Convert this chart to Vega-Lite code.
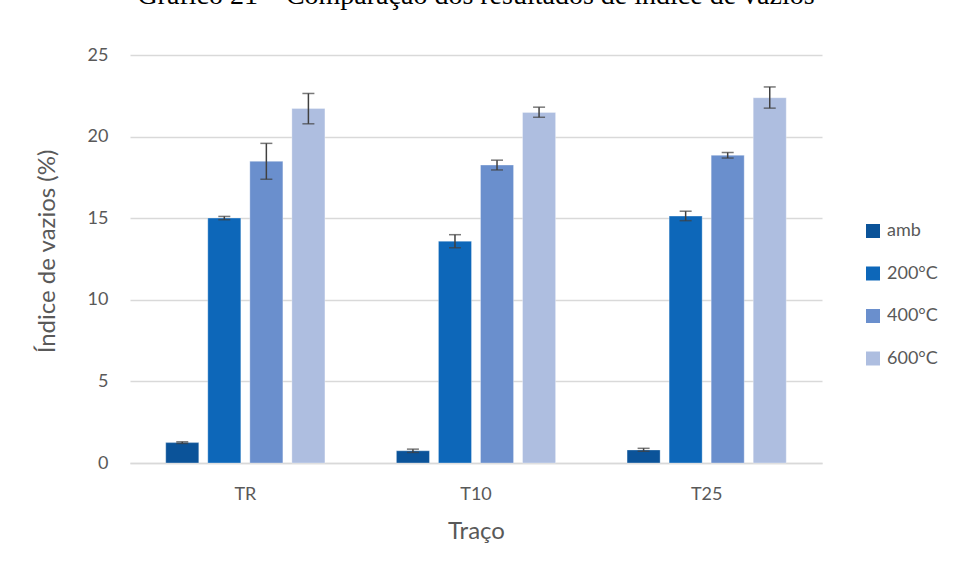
{
  "$schema": "https://vega.github.io/schema/vega-lite/v6.json",
  "width": 692,
  "height": 424,
  "autosize": "none",
  "padding": {"left": 130, "top": 39, "right": 136, "bottom": 118},
  "background": "white",
  "title": {
    "text": "Gráfico 21 – Comparação dos resultados de índice de vazios",
    "font": "Liberation Serif",
    "fontSize": 28,
    "fontWeight": "normal",
    "color": "#000000",
    "anchor": "middle",
    "frame": "group",
    "baseline": "alphabetic",
    "offset": 7
  },
  "data": {
    "values": [
      {"traco": "TR", "temp": "amb", "value": 1.25, "lo": 1.2, "hi": 1.3},
      {"traco": "TR", "temp": "200°C", "value": 15.02, "lo": 14.92, "hi": 15.12},
      {"traco": "TR", "temp": "400°C", "value": 18.5, "lo": 17.4, "hi": 19.6},
      {"traco": "TR", "temp": "600°C", "value": 21.74, "lo": 20.8, "hi": 22.66},
      {"traco": "T10", "temp": "amb", "value": 0.75, "lo": 0.65, "hi": 0.85},
      {"traco": "T10", "temp": "200°C", "value": 13.6, "lo": 13.2, "hi": 14.0},
      {"traco": "T10", "temp": "400°C", "value": 18.27, "lo": 17.97, "hi": 18.57},
      {"traco": "T10", "temp": "600°C", "value": 21.5, "lo": 21.2, "hi": 21.82},
      {"traco": "T25", "temp": "amb", "value": 0.8, "lo": 0.72, "hi": 0.9},
      {"traco": "T25", "temp": "200°C", "value": 15.14, "lo": 14.86, "hi": 15.44},
      {"traco": "T25", "temp": "400°C", "value": 18.87, "lo": 18.7, "hi": 19.04},
      {"traco": "T25", "temp": "600°C", "value": 22.4, "lo": 21.76, "hi": 23.06}
    ]
  },
  "encoding": {
    "x": {
      "field": "traco",
      "type": "nominal",
      "sort": ["TR", "T10", "T25"],
      "scale": {"paddingInner": 0, "paddingOuter": 0},
      "axis": {
        "title": "Traço",
        "labelAngle": 0,
        "ticks": false,
        "domainColor": "#d9d9d9",
        "domainWidth": 1.5,
        "labelFont": "Lato",
        "labelFontSize": 18,
        "labelColor": "#595959",
        "labelPadding": 22,
        "titleFont": "Lato",
        "titleFontSize": 24,
        "titleFontWeight": "normal",
        "titleColor": "#595959",
        "titlePadding": 16
      }
    },
    "xOffset": {
      "field": "temp",
      "type": "nominal",
      "sort": ["amb", "200°C", "400°C", "600°C"],
      "scale": {"paddingInner": 0.214, "paddingOuter": 0.85}
    }
  },
  "layer": [
    {
      "mark": {"type": "bar", "stroke": "#ffffff", "strokeWidth": 0.8, "strokeOpacity": 0.4},
      "encoding": {
        "y": {
          "field": "value",
          "type": "quantitative",
          "scale": {"domain": [0, 25]},
          "axis": {
            "title": "Índice de vazios (%)",
            "values": [0, 5, 10, 15, 20, 25],
            "ticks": false,
            "domain": false,
            "gridColor": "#d9d9d9",
            "gridWidth": 1.5,
            "labelFont": "Lato",
            "labelFontSize": 18,
            "labelColor": "#595959",
            "labelPadding": 22,
            "titleFont": "Lato",
            "titleFontSize": 24,
            "titleFontWeight": "normal",
            "titleColor": "#595959",
            "titlePadding": 28
          }
        },
        "color": {
          "field": "temp",
          "type": "nominal",
          "sort": ["amb", "200°C", "400°C", "600°C"],
          "scale": {
            "domain": ["amb", "200°C", "400°C", "600°C"],
            "range": ["#0b5399", "#0d67b9", "#6a8fcd", "#aebee0"]
          },
          "legend": {
            "title": null,
            "orient": "none",
            "legendX": 734,
            "legendY": 183,
            "padding": 0,
            "symbolType": "square",
            "symbolSize": 196,
            "symbolStrokeWidth": 0,
            "labelFont": "Lato",
            "labelFontSize": 18,
            "labelColor": "#595959",
            "labelOffset": 5,
            "rowPadding": 24.5
          }
        }
      }
    },
    {
      "mark": {"type": "rule", "color": "#404040", "strokeWidth": 1.5},
      "encoding": {
        "y": {"field": "lo", "type": "quantitative"},
        "y2": {"field": "hi"}
      }
    },
    {
      "mark": {"type": "tick", "color": "#404040", "thickness": 1.5, "size": 12, "orient": "horizontal"},
      "encoding": {
        "y": {"field": "lo", "type": "quantitative"}
      }
    },
    {
      "mark": {"type": "tick", "color": "#404040", "thickness": 1.5, "size": 12, "orient": "horizontal"},
      "encoding": {
        "y": {"field": "hi", "type": "quantitative"}
      }
    }
  ],
  "config": {
    "view": {"stroke": null}
  }
}
